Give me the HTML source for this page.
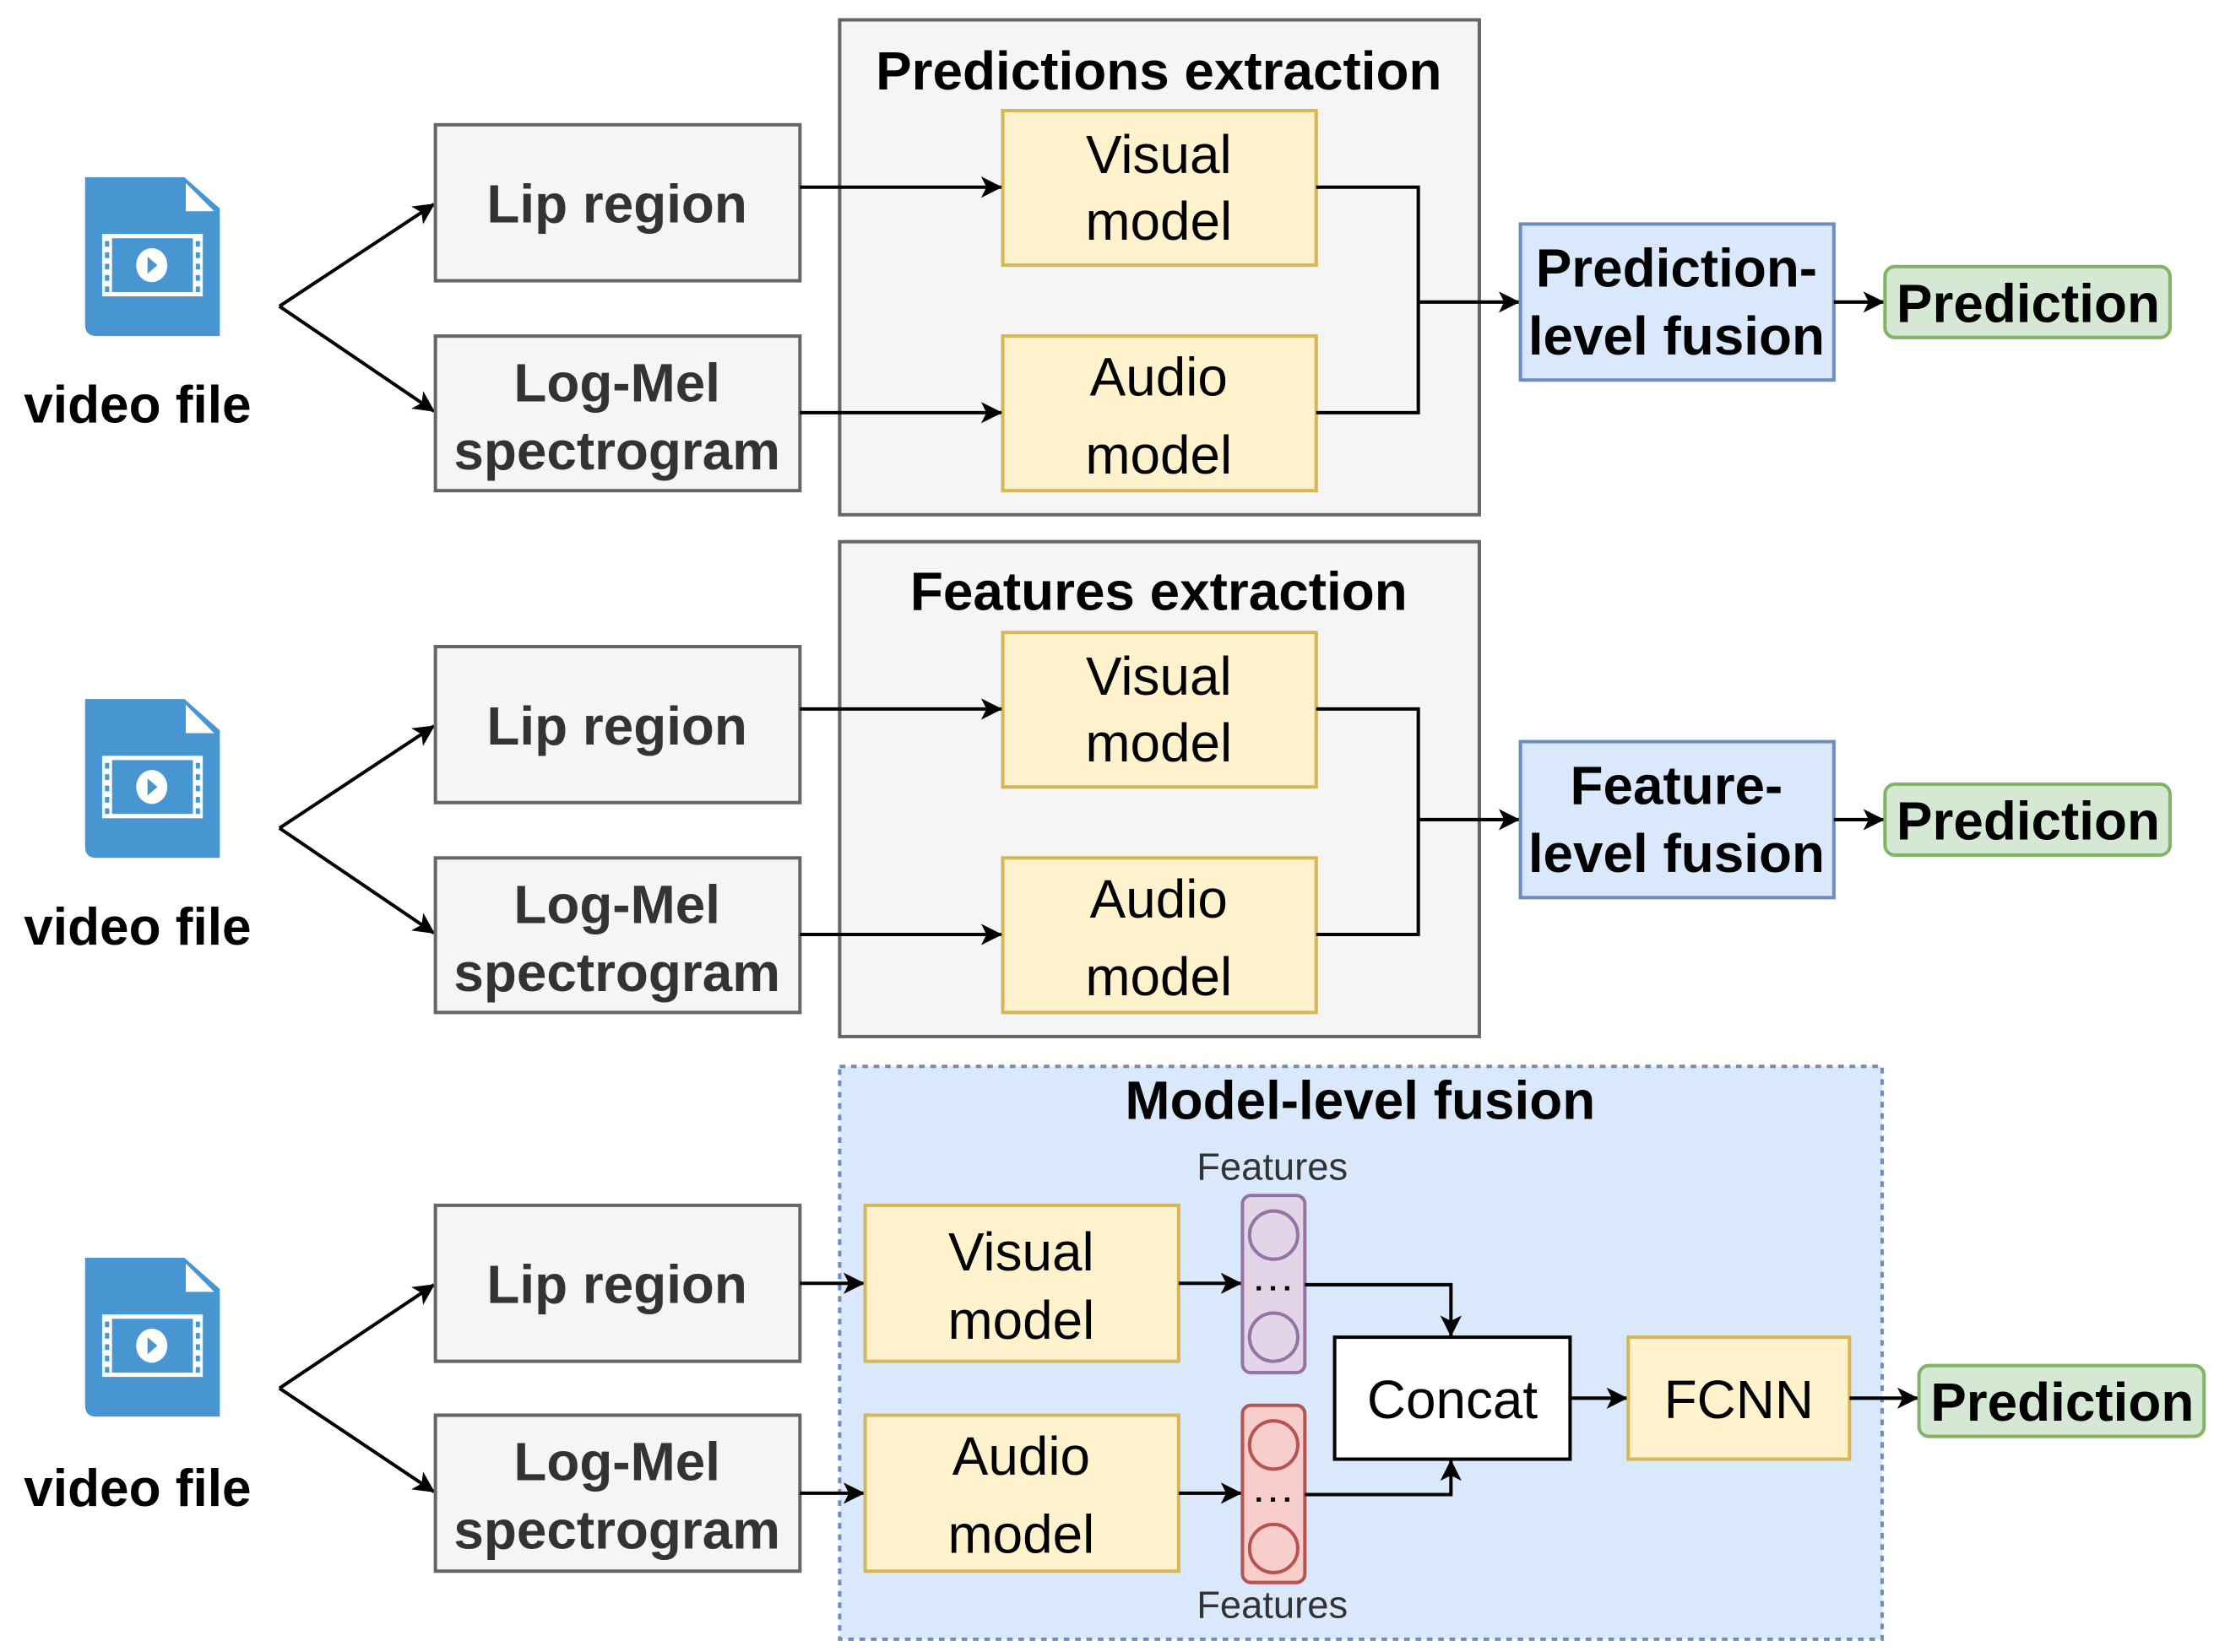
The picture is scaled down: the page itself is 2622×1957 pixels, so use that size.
<!DOCTYPE html>
<html><head><meta charset="utf-8"><style>
html,body{margin:0;padding:0;background:#fff;}
svg{display:block;}
text{font-family:"Liberation Sans",Arial,sans-serif;}
</style></head><body>
<svg width="2622" height="1957" viewBox="0 0 1561 1165" preserveAspectRatio="none" xmlns="http://www.w3.org/2000/svg">
<defs>
<marker id="b" viewBox="0 0 10 10" refX="9.5" refY="5" markerWidth="15" markerHeight="15" markerUnits="userSpaceOnUse" orient="auto"><path d="M0,0 L10,5 L0,10 L2.5,5 Z" fill="#000"/></marker>
<g id="icon">
<path d="M0,0 H70 L95,22 V112 H8 Q0,112 0,104 Z" fill="#4795d1"/>
<path d="M71,4 L71,24 L91,24 Z" fill="#fff"/>
<rect x="12" y="40" width="71" height="44" fill="#fff"/>
<rect x="19" y="43" width="57" height="38" fill="#4795d1"/>
<g fill="#4795d1">
<rect x="14" y="45" width="3" height="4"/><rect x="14" y="53" width="3" height="4"/><rect x="14" y="61" width="3" height="4"/><rect x="14" y="69" width="3" height="4"/><rect x="14" y="77" width="3" height="4"/>
<rect x="78" y="45" width="3" height="4"/><rect x="78" y="53" width="3" height="4"/><rect x="78" y="61" width="3" height="4"/><rect x="78" y="69" width="3" height="4"/><rect x="78" y="77" width="3" height="4"/>
</g>
<ellipse cx="47" cy="62" rx="11" ry="12" fill="#fff"/>
<path d="M44,56 L51,62 L44,68 Z" fill="#4795d1"/>
</g>
</defs>

<!-- ===== Row 1 ===== -->
<g>
<use href="#icon" x="60" y="125"/>
<text x="97" y="298" font-size="37" font-weight="bold" text-anchor="middle" fill="#000">video file</text>
<path d="M197,216 L306,144" stroke="#000" stroke-width="2.4" marker-end="url(#b)"/>
<path d="M197,216 L306,290" stroke="#000" stroke-width="2.4" marker-end="url(#b)"/>
<rect x="307" y="88" width="257" height="110" fill="#f5f5f5" stroke="#666" stroke-width="2.4"/>
<text x="435" y="157" font-size="38" font-weight="bold" text-anchor="middle" fill="#333">Lip region</text>
<rect x="307" y="237" width="257" height="109" fill="#f5f5f5" stroke="#666" stroke-width="2.4"/>
<text x="435" y="283" font-size="38" font-weight="bold" text-anchor="middle" fill="#333">Log-Mel</text>
<text x="435" y="331" font-size="38" font-weight="bold" text-anchor="middle" fill="#333">spectrogram</text>
<rect x="592" y="14" width="451" height="349" fill="#f5f5f5" stroke="#666" stroke-width="2.4"/>
<text x="817" y="63" font-size="38" font-weight="bold" text-anchor="middle" fill="#000">Predictions extraction</text>
<rect x="707" y="78" width="221" height="109" fill="#fff2cc" stroke="#d6b656" stroke-width="2.4"/>
<text x="817" y="122" font-size="38" text-anchor="middle" fill="#000">Visual</text>
<text x="817" y="169" font-size="38" text-anchor="middle" fill="#000">model</text>
<rect x="707" y="237" width="221" height="109" fill="#fff2cc" stroke="#d6b656" stroke-width="2.4"/>
<text x="817" y="279" font-size="38" text-anchor="middle" fill="#000">Audio</text>
<text x="817" y="334" font-size="38" text-anchor="middle" fill="#000">model</text>
<path d="M564,132 H706" stroke="#000" stroke-width="2.4" marker-end="url(#b)"/>
<path d="M564,291 H706" stroke="#000" stroke-width="2.4" marker-end="url(#b)"/>
<path d="M928,132 H1000 V291 H928" fill="none" stroke="#000" stroke-width="2.4"/>
<path d="M1000,213 H1071" stroke="#000" stroke-width="2.4" marker-end="url(#b)"/>
<rect x="1072" y="158" width="221" height="110" fill="#dae8fc" stroke="#6c8ebf" stroke-width="2.4"/>
<text x="1182" y="202" font-size="38" font-weight="bold" text-anchor="middle" fill="#000">Prediction-</text>
<text x="1182" y="250" font-size="38" font-weight="bold" text-anchor="middle" fill="#000">level fusion</text>
<path d="M1293,213 H1328" stroke="#000" stroke-width="2.4" marker-end="url(#b)"/>
<rect x="1329" y="188" width="201" height="50" rx="7" fill="#d5e8d4" stroke="#82b366" stroke-width="2.4"/>
<text x="1430" y="227" font-size="38" font-weight="bold" text-anchor="middle" fill="#000">Prediction</text>
</g>

<!-- ===== Row 2 ===== -->
<g transform="translate(0,368)">
<use href="#icon" x="60" y="125"/>
<text x="97" y="298" font-size="37" font-weight="bold" text-anchor="middle" fill="#000">video file</text>
<path d="M197,216 L306,144" stroke="#000" stroke-width="2.4" marker-end="url(#b)"/>
<path d="M197,216 L306,290" stroke="#000" stroke-width="2.4" marker-end="url(#b)"/>
<rect x="307" y="88" width="257" height="110" fill="#f5f5f5" stroke="#666" stroke-width="2.4"/>
<text x="435" y="157" font-size="38" font-weight="bold" text-anchor="middle" fill="#333">Lip region</text>
<rect x="307" y="237" width="257" height="109" fill="#f5f5f5" stroke="#666" stroke-width="2.4"/>
<text x="435" y="283" font-size="38" font-weight="bold" text-anchor="middle" fill="#333">Log-Mel</text>
<text x="435" y="331" font-size="38" font-weight="bold" text-anchor="middle" fill="#333">spectrogram</text>
<rect x="592" y="14" width="451" height="349" fill="#f5f5f5" stroke="#666" stroke-width="2.4"/>
<text x="817" y="62" font-size="38" font-weight="bold" text-anchor="middle" fill="#000">Features extraction</text>
<rect x="707" y="78" width="221" height="109" fill="#fff2cc" stroke="#d6b656" stroke-width="2.4"/>
<text x="817" y="122" font-size="38" text-anchor="middle" fill="#000">Visual</text>
<text x="817" y="169" font-size="38" text-anchor="middle" fill="#000">model</text>
<rect x="707" y="237" width="221" height="109" fill="#fff2cc" stroke="#d6b656" stroke-width="2.4"/>
<text x="817" y="279" font-size="38" text-anchor="middle" fill="#000">Audio</text>
<text x="817" y="334" font-size="38" text-anchor="middle" fill="#000">model</text>
<path d="M564,132 H706" stroke="#000" stroke-width="2.4" marker-end="url(#b)"/>
<path d="M564,291 H706" stroke="#000" stroke-width="2.4" marker-end="url(#b)"/>
<path d="M928,132 H1000 V291 H928" fill="none" stroke="#000" stroke-width="2.4"/>
<path d="M1000,210 H1071" stroke="#000" stroke-width="2.4" marker-end="url(#b)"/>
<rect x="1072" y="155" width="221" height="110" fill="#dae8fc" stroke="#6c8ebf" stroke-width="2.4"/>
<text x="1182" y="199" font-size="38" font-weight="bold" text-anchor="middle" fill="#000">Feature-</text>
<text x="1182" y="247" font-size="38" font-weight="bold" text-anchor="middle" fill="#000">level fusion</text>
<path d="M1293,210 H1328" stroke="#000" stroke-width="2.4" marker-end="url(#b)"/>
<rect x="1329" y="185" width="201" height="50" rx="7" fill="#d5e8d4" stroke="#82b366" stroke-width="2.4"/>
<text x="1430" y="224" font-size="38" font-weight="bold" text-anchor="middle" fill="#000">Prediction</text>
</g>

<!-- ===== Row 3 ===== -->
<rect x="592" y="752" width="735" height="404" fill="#dae8fc" stroke="#6c8ebf" stroke-width="2.4" stroke-dasharray="4,4"/>
<text x="959" y="789" font-size="38" font-weight="bold" text-anchor="middle" fill="#000">Model-level fusion</text>
<use href="#icon" x="60" y="887"/>
<text x="97" y="1062" font-size="37" font-weight="bold" text-anchor="middle" fill="#000">video file</text>
<path d="M197,979 L306,906" stroke="#000" stroke-width="2.4" marker-end="url(#b)"/>
<path d="M197,979 L306,1052" stroke="#000" stroke-width="2.4" marker-end="url(#b)"/>
<rect x="307" y="850" width="257" height="110" fill="#f5f5f5" stroke="#666" stroke-width="2.4"/>
<text x="435" y="919" font-size="38" font-weight="bold" text-anchor="middle" fill="#333">Lip region</text>
<rect x="307" y="998" width="257" height="110" fill="#f5f5f5" stroke="#666" stroke-width="2.4"/>
<text x="435" y="1044" font-size="38" font-weight="bold" text-anchor="middle" fill="#333">Log-Mel</text>
<text x="435" y="1092" font-size="38" font-weight="bold" text-anchor="middle" fill="#333">spectrogram</text>
<path d="M564,905 H609" stroke="#000" stroke-width="2.4" marker-end="url(#b)"/>
<path d="M564,1053 H609" stroke="#000" stroke-width="2.4" marker-end="url(#b)"/>
<rect x="610" y="850" width="221" height="110" fill="#fff2cc" stroke="#d6b656" stroke-width="2.4"/>
<text x="720" y="896" font-size="38" text-anchor="middle" fill="#000">Visual</text>
<text x="720" y="944" font-size="38" text-anchor="middle" fill="#000">model</text>
<rect x="610" y="998" width="221" height="110" fill="#fff2cc" stroke="#d6b656" stroke-width="2.4"/>
<text x="720" y="1040" font-size="38" text-anchor="middle" fill="#000">Audio</text>
<text x="720" y="1095" font-size="38" text-anchor="middle" fill="#000">model</text>
<path d="M831,905 H875" stroke="#000" stroke-width="2.4" marker-end="url(#b)"/>
<path d="M831,1053 H875" stroke="#000" stroke-width="2.4" marker-end="url(#b)"/>
<text x="897" y="832" font-size="27" text-anchor="middle" fill="#333">Features</text>
<text x="897" y="1141" font-size="27" text-anchor="middle" fill="#333">Features</text>
<rect x="876" y="843" width="44" height="125" rx="6" fill="#e1d5e7" stroke="#9673a6" stroke-width="2.4"/>
<circle cx="898" cy="871" r="17" fill="#e1d5e7" stroke="#9673a6" stroke-width="2.4"/>
<circle cx="898" cy="943" r="17" fill="#e1d5e7" stroke="#9673a6" stroke-width="2.4"/>
<g fill="#000"><rect x="886" y="907" width="3" height="3"/><rect x="896" y="907" width="3" height="3"/><rect x="906" y="907" width="3" height="3"/></g>
<rect x="876" y="991" width="44" height="125" rx="6" fill="#f8cecc" stroke="#b85450" stroke-width="2.4"/>
<circle cx="898" cy="1019" r="17" fill="#f8cecc" stroke="#b85450" stroke-width="2.4"/>
<circle cx="898" cy="1092" r="17" fill="#f8cecc" stroke="#b85450" stroke-width="2.4"/>
<g fill="#000"><rect x="886" y="1056" width="3" height="3"/><rect x="896" y="1056" width="3" height="3"/><rect x="906" y="1056" width="3" height="3"/></g>
<path d="M920,906 H1023 V942" fill="none" stroke="#000" stroke-width="2.4" marker-end="url(#b)"/>
<path d="M920,1054 H1023 V1030" fill="none" stroke="#000" stroke-width="2.4" marker-end="url(#b)"/>
<rect x="941" y="943" width="166" height="86" fill="#fff" stroke="#000" stroke-width="2.4"/>
<text x="1024" y="1000" font-size="38" text-anchor="middle" fill="#000">Concat</text>
<path d="M1107,986 H1147" stroke="#000" stroke-width="2.4" marker-end="url(#b)"/>
<rect x="1148" y="943" width="156" height="86" fill="#fff2cc" stroke="#d6b656" stroke-width="2.4"/>
<text x="1226" y="1000" font-size="38" text-anchor="middle" fill="#000">FCNN</text>
<path d="M1304,986 H1352" stroke="#000" stroke-width="2.4" marker-end="url(#b)"/>
<rect x="1353" y="963" width="201" height="50" rx="7" fill="#d5e8d4" stroke="#82b366" stroke-width="2.4"/>
<text x="1454" y="1002" font-size="38" font-weight="bold" text-anchor="middle" fill="#000">Prediction</text>
</svg>
</body></html>
